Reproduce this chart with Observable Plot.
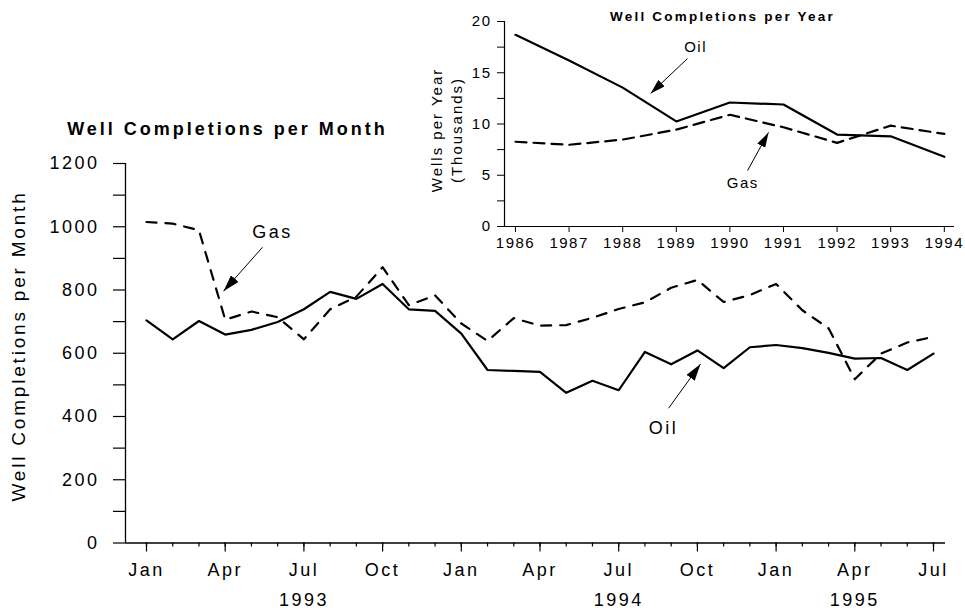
<!DOCTYPE html>
<html><head><meta charset="utf-8">
<script src="https://cdn.jsdelivr.net/npm/d3@7"></script>
<script src="https://cdn.jsdelivr.net/npm/@observablehq/plot@0.6"></script>
<style>
body{margin:0;background:#fff;}
#wrap{position:relative;width:965px;height:613px;overflow:hidden;font-family:"Liberation Sans",Arial,sans-serif;color:#000;}
#wrap svg{position:absolute;top:0;}
.lbl{position:absolute;white-space:nowrap;line-height:1;transform:translate(-50%,-50%);}
.rot{transform:translate(-50%,-50%) rotate(-90deg);}
</style></head><body><div id="wrap"></div>
<script>
// ---------- Monthly data (main chart) ----------
const months = ["Jan 1993","Feb 1993","Mar 1993","Apr 1993","May 1993","Jun 1993","Jul 1993","Aug 1993","Sep 1993","Oct 1993","Nov 1993","Dec 1993",
  "Jan 1994","Feb 1994","Mar 1994","Apr 1994","May 1994","Jun 1994","Jul 1994","Aug 1994","Sep 1994","Oct 1994","Nov 1994","Dec 1994",
  "Jan 1995","Feb 1995","Mar 1995","Apr 1995","May 1995","Jun 1995","Jul 1995"];
const oilMonthly = [704,644,702,659,674,699,739,794,772,819,739,734,662,547,544,541,475,513,483,604,565,609,553,619,626,616,601,583,585,547,599];
const gasMonthly = [1015,1010,989,706,732,714,644,739,779,872,752,783,694,639,711,687,689,712,740,761,807,832,762,784,819,736,679,518,599,634,652];
const monthTickLabels = ["Jan","Apr","Jul","Oct"];
const yearLabels = ["1993","1994","1995"];
const yearLabelAt = ["Jul 1993","Jul 1994","Apr 1995"];
const yMajorTicks = [0,200,400,600,800,1000,1200];
const yMinorTicks = [100,300,500,700,900,1100];
const mainLabelText = ["Gas","Oil"];
const mainLabelX = [4.8,19.71];
const mainLabelY = [982,362];
const mainArrowFrom = [[4.42,935],[19.9,426]];
const mainArrowTo = [[2.935,796],[21.12,566]];

// ---------- Yearly data (inset) ----------
const years = [1986,1987,1988,1989,1990,1991,1992,1993,1994];
const oilYearly = [18.7,16.2,13.55,10.25,12.1,11.9,8.97,8.8,6.8];
const gasYearly = [8.27,7.97,8.48,9.45,10.9,9.68,8.16,9.84,9.03];
const insetYMajor = [0,5,10,15,20];
const insetYMinor = [2.5,7.5,12.5,17.5];
const insetLabelText = ["Oil","Gas"];
const insetLabelX = [1989.36,1990.24];
const insetLabelY = [17.49,4.22];
const insetArrowFrom = [[1989.21,16.39],[1990.33,5.46]];
const insetArrowTo = [[1988.52,12.98],[1990.72,9.17]];

const FONT = '"Liberation Sans", Arial, sans-serif';
const idx = months.map((m,i)=>i);
const oil = idx.map(i=>({i, v: oilMonthly[i]}));
const gas = idx.map(i=>({i, v: gasMonthly[i]}));
const majorIdx = idx.filter(i=>monthTickLabels.includes(months[i].split(" ")[0]));
const years3 = yearLabels.map((t,k)=>({t, at: months.indexOf(yearLabelAt[k])}));
const mainLabels = mainLabelText.map((t,k)=>({t, x: mainLabelX[k], y: mainLabelY[k]}));
const mainArrows = mainArrowFrom.map((f,k)=>({x1:f[0],y1:f[1],x2:mainArrowTo[k][0],y2:mainArrowTo[k][1]}));

const X0 = -0.8005, X1 = 30.457;
const main = Plot.plot({
  width: 965, height: 613,
  marginLeft: 125, marginRight: 20, marginTop: 163, marginBottom: 70.5,
  x: {domain: [X0, X1], label: null},
  y: {domain: [0, 1200], label: null},
  style: {fontFamily: FONT, fontSize: "18px", letterSpacing: "2.5px", color: "#000", background: "transparent"},
  marks: [
    Plot.ruleX([X0], {stroke: "#000", strokeWidth: 1.3}),
    Plot.ruleY([0], {stroke: "#000", strokeWidth: 1.3}),
    Plot.axisY({ticks: yMinorTicks, tickSize: 12, tickFormat: () => "", label: null, strokeWidth: 1.2}),
    Plot.axisY({ticks: yMajorTicks, tickSize: 12, tickPadding: 14, fontSize: 18, tickFormat: d => String(d), label: null, strokeWidth: 1.2}),
    Plot.axisX({ticks: idx, tickSize: 4, tickFormat: () => "", label: null, strokeWidth: 1.2}),
    Plot.axisX({ticks: majorIdx, tickSize: 9, tickPadding: 11.5, fontSize: 18, tickFormat: i => months[i].split(" ")[0], label: null, strokeWidth: 1.2}),
    Plot.text(years3, {x: "at", y: () => 0, text: "t", dy: 57.5, fontSize: 18}),
    Plot.line(oil, {x: "i", y: "v", stroke: "#000", strokeWidth: 2.2}),
    Plot.line(gas, {x: "i", y: "v", stroke: "#000", strokeWidth: 2.2, strokeDasharray: "10,9"}),
    Plot.link(mainArrows, {x1: "x1", y1: "y1", x2: "x2", y2: "y2", stroke: "#000", strokeWidth: 1}),
    Plot.text(mainLabels, {x: "x", y: "y", text: "t", fontSize: 18})
  ]
});

const insetLabels = insetLabelText.map((t,k)=>({t, x: insetLabelX[k], y: insetLabelY[k]}));
const insetArrows = insetArrowFrom.map((f,k)=>({x1:f[0],y1:f[1],x2:insetArrowTo[k][0],y2:insetArrowTo[k][1]}));
const oilY = years.map((y,k)=>({yr: y, v: oilYearly[k]}));
const gasY = years.map((y,k)=>({yr: y, v: gasYearly[k]}));
const IX0 = 1985.795, IX1 = 1994.19;
const inset = Plot.plot({
  width: 555, height: 260,
  marginLeft: 94, marginRight: 11, marginTop: 21, marginBottom: 34,
  x: {domain: [IX0, IX1], label: null},
  y: {domain: [0, 20], label: null},
  style: {fontFamily: FONT, fontSize: "15px", letterSpacing: "1.5px", color: "#000", background: "transparent"},
  marks: [
    Plot.ruleX([IX0], {stroke: "#000", strokeWidth: 1.2}),
    Plot.ruleY([0], {stroke: "#000", strokeWidth: 1.2}),
    Plot.axisY({ticks: insetYMinor, tickSize: 7, tickFormat: () => "", label: null}),
    Plot.axisY({ticks: insetYMajor, tickSize: 7, tickPadding: 6, fontSize: 15, tickFormat: d => String(d), label: null}),
    Plot.axisX({ticks: years, tickSize: 6, tickPadding: 5, fontSize: 15, tickFormat: d => String(d), label: null}),
    Plot.line(oilY, {x: "yr", y: "v", stroke: "#000", strokeWidth: 2.2}),
    Plot.line(gasY, {x: "yr", y: "v", stroke: "#000", strokeWidth: 2.2, strokeDasharray: "11,7"}),
    Plot.link(insetArrows, {x1: "x1", y1: "y1", x2: "x2", y2: "y2", stroke: "#000", strokeWidth: 1}),
    Plot.text(insetLabels, {x: "x", y: "y", text: "t", fontSize: 15})
  ]
});

function solidArrowheads(svg, id, len, wid) {
  const ns = "http://www.w3.org/2000/svg";
  const defs = document.createElementNS(ns, "defs");
  const m = document.createElementNS(ns, "marker");
  m.setAttribute("id", id);
  m.setAttribute("viewBox", `0 ${-wid/2} ${len} ${wid}`);
  m.setAttribute("markerWidth", len);
  m.setAttribute("markerHeight", wid);
  m.setAttribute("refX", len);
  m.setAttribute("refY", 0);
  m.setAttribute("orient", "auto");
  m.setAttribute("markerUnits", "userSpaceOnUse");
  const p = document.createElementNS(ns, "path");
  p.setAttribute("d", `M0,${-wid/2}L${len},0L0,${wid/2}Z`);
  p.setAttribute("fill", "#000");
  p.setAttribute("stroke", "none");
  m.appendChild(p); defs.appendChild(m);
  svg.insertBefore(defs, svg.firstChild);
  svg.querySelectorAll('g[aria-label="link"] path, g[aria-label="link"] line')
     .forEach(e => e.setAttribute("marker-end", `url(#${id})`));
}
solidArrowheads(main, "ahMain", 17, 10);
solidArrowheads(inset, "ahInset", 15, 9);

const wrap = document.getElementById("wrap");
main.style.left = "0px";
inset.style.left = "410px";
wrap.appendChild(main);
wrap.appendChild(inset);

function addLabel(text, cx, cy, css, rot) {
  const d = document.createElement("div");
  d.className = "lbl" + (rot ? " rot" : "");
  d.textContent = text;
  d.style.left = cx + "px";
  d.style.top = cy + "px";
  Object.assign(d.style, css);
  wrap.appendChild(d);
}
addLabel("Well Completions per Month", 227.5, 128.5, {fontWeight: "bold", fontSize: "18px", letterSpacing: "3px"});
addLabel("Well Completions per Month", 17.5, 346, {fontSize: "19px", letterSpacing: "2.8px"}, true);
addLabel("Well Completions per Year", 722.5, 16.5, {fontWeight: "bold", fontSize: "13.5px", letterSpacing: "2.2px"});
addLabel("Wells per Year", 436, 130, {fontSize: "15px", letterSpacing: "2px"}, true);
addLabel("(Thousands)", 456, 130, {fontSize: "15px", letterSpacing: "2px"}, true);
</script></body></html>
